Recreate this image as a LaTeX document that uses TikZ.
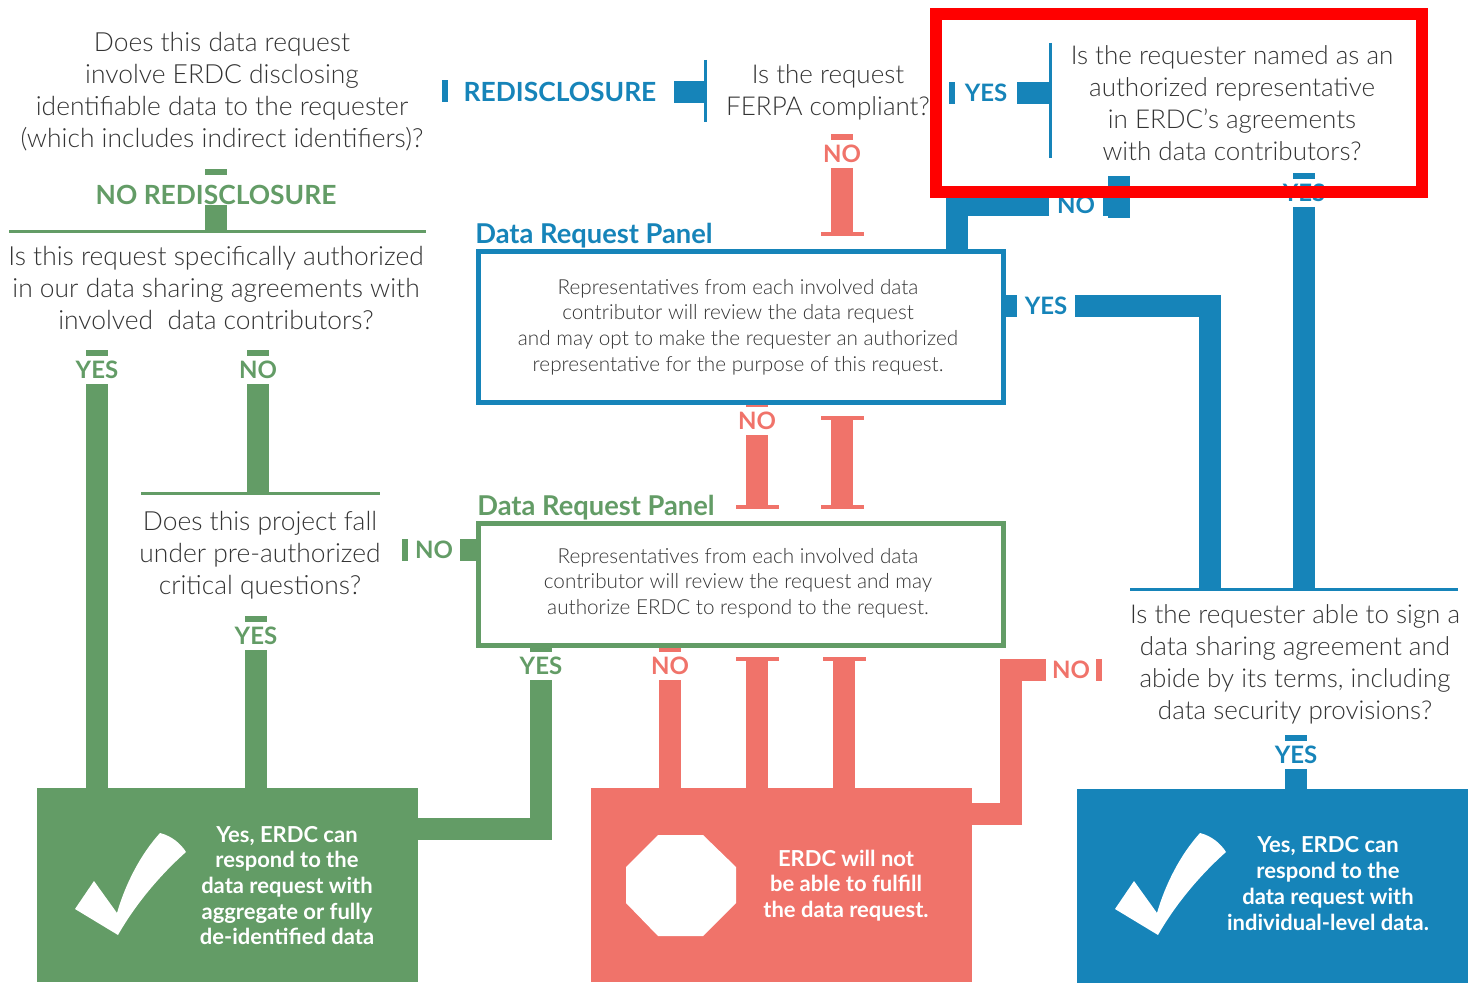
\documentclass[tikz,border=0pt]{standalone}
\usepackage{fontspec}
\setmainfont{Lato}[UprightFont=* Light,BoldFont=* Bold]
\usetikzlibrary{positioning}
\definecolor{ablue}{HTML}{1684B9}
\definecolor{agreen}{HTML}{639C66}
\definecolor{asalmon}{HTML}{F0736A}
\begin{document}
\begin{tikzpicture}[
        x=0.5pt, y=-0.5pt,
        every node/.style={inner sep=0pt, outer sep=0pt},
        question/.style={align=center, text=black!80, font=\fontsize{#1}{16}\selectfont},
        question/.default=13.2,
        detail/.style={align=center, text=black!80, font=\fontsize{10.35}{12.8}\selectfont},
        heading/.style={font=\bfseries\fontsize{13.2}{16}\selectfont},
        title/.style={font=\bfseries\fontsize{13.65}{16}\selectfont},
        answer/.style={font=\bfseries\fontsize{12}{12}\selectfont, text=#1, minimum height=14pt},
        result/.style={align=center, text=white, font=\bfseries\fontsize{11}{12.85}\selectfont},
        vtick/.style={fill=#1, minimum width=11pt, minimum height=3pt},
        htick/.style={fill=#1, minimum width=3pt, minimum height=11pt},
        stop/.style={fill=asalmon, minimum width=21.5pt, minimum height=2pt},
        panel/.style={draw=#1, line width=2.5pt, minimum width=262.5pt},
        outcome/.style={fill=#1, minimum width=190.5pt, minimum height=97pt},
        rule/.style={draw=#1, line width=1.5pt},
        bar/.style={draw=#1, line width=11pt}
    ]
    \useasboundingbox (0,0) rectangle (1476,984);

    % question texts
    \node[question] (qDisclose) at (222,92) {Does this data request\\involve ERDC disclosing\\identifiable data to the requester\\(which includes indirect identifiers)?};
    \node[question] (qAuthorized) at (216,288) {Is this request specifically authorized\\in our data sharing agreements with\\involved~~data contributors?};
    \node[question] (qCritical) at (260,555) {Does this project fall\\under pre-authorized\\critical questions?};
    \node[question=13] (qFerpa) at (828,92.5) {Is the request\\FERPA compliant?};
    \node[question=13] (qNamed) at (1232,103.5) {Is the requester named as an\\authorized representative\\in ERDC's agreements\\with data contributors?};
    \node[question=13] (qSign) at (1295,664) {Is the requester able to sign a\\data sharing agreement and\\abide by its terms, including\\data security provisions?};

    % headings
    \node[heading, text=agreen] (noRedis) at (216,195) {NO REDISCLOSURE};
    \node[heading, text=ablue] (redis) at (560,92) {REDISCLOSURE};
    \node[title, text=ablue] (titleBlue) at (594,236) {Data Request Panel};
    \node[title, text=agreen] (titleGreen) at (596,508) {Data Request Panel};
    \node[vtick=agreen, above=5pt of noRedis.north] (tickNoRedis) {};
    \node[htick=ablue] (tickRedis) at (445,91.5) {};

    % answers, with their ticks
    \node[answer=agreen] (yesAuth) at (97,370) {YES};
    \node[vtick=agreen, above=0pt of yesAuth] (tickYesAuth) {};
    \node[answer=agreen] (noAuth) at (258,370) {NO};
    \node[vtick=agreen, above=0pt of noAuth] (tickNoAuth) {};
    \node[answer=agreen] (yesCrit) at (256,636) {YES};
    \node[vtick=agreen, above=0pt of yesCrit] (tickYesCrit) {};
    \node[answer=agreen, minimum width=26pt] (noCrit) at (434,550) {NO};
    \node[htick=agreen, left=0pt of noCrit] (tickNoCrit) {};
    \node[answer=agreen] (yesPanel) at (541,666) {YES};
    \node[vtick=agreen, above=0pt of yesPanel] (tickYesPanel) {};
    \node[answer=asalmon] (noPanel) at (670,666) {NO};
    \node[vtick=asalmon, above=0pt of noPanel] (tickNoPanel) {};
    \node[answer=asalmon] (noFerpa) at (842,154) {NO};
    \node[vtick=asalmon, above=0pt of noFerpa] (tickNoFerpa) {};
    \node[answer=asalmon] (noBlue) at (757,421) {NO};
    \node[vtick=asalmon, above=0pt of noBlue] (tickNoBlue) {};
    \node[answer=asalmon, minimum width=25pt] (noSign) at (1071,670) {NO};
    \node[htick=asalmon, right=0pt of noSign] (tickNoSign) {};
    \node[answer=ablue, minimum width=31pt] (yesNamed) at (986,93) {YES};
    \node[htick=ablue, left=0pt of yesNamed] (tickYesNamed) {};
    \node[answer=ablue, minimum width=27pt] (noNamed) at (1076,205) {NO};
    \node[answer=ablue, minimum width=29pt] (yesBlue) at (1046,306) {YES};
    \node[answer=ablue] (yesSign) at (1304,193) {YES};
    \node[vtick=ablue, above=0pt of yesSign] (tickYesSign) {};
    \node[answer=ablue] (yesData) at (1296,755) {YES};
    \node[vtick=ablue, above=0pt of yesData] (tickYesData) {};

    % red stop ends
    \node[stop] (stopFerpa) at (842,234) {};
    \node[stop] (stopBlue) at (757,507) {};
    \node[stop] (stopTop) at (842,418) {};
    \node[stop] (stopBottom) at (842,507) {};
    \node[stop] (stopLeft) at (757,659) {};
    \node[stop] (stopRight) at (844,659) {};

    % panels and outcomes
    \node[panel=ablue, minimum height=75.5pt] (panelBlue) at (741,327) {};
    \node[detail] (textBlue) at (738,327) {Representatives from each involved data\\contributor will review the data request\\and may opt to make the requester an authorized\\representative for the purpose of this request.};
    \node[panel=agreen, minimum height=61pt] (panelGreen) at (741,584.5) {};
    \node[detail] (textGreen) at (738,583) {Representatives from each involved data\\contributor will review the request and may\\authorize ERDC to respond to the request.};
    \node[outcome=agreen] (boxGreen) at (227.5,885) {};
    \node[outcome=asalmon] (boxRed) at (781.5,884.5) {};
    \node[outcome=ablue, minimum width=195.5pt] (boxBlue) at (1272.5,885.5) {};
    \node[result] (textGreenBox) at (287,885.5) {Yes, ERDC can\\respond to the\\data request with\\aggregate or fully\\de-identified data};
    \node[result] (textRedBox) at (846,885.5) {ERDC will not\\be able to fulfill\\the data request.};
    \node[result] (textBlueBox) at (1328,883.5) {Yes, ERDC can\\respond to the\\data request with\\individual-level data.};

    % rules beside the questions
    \coordinate (ruleA) at (9,232);
    \coordinate (ruleB) at (426,232);
    \coordinate (ruleC) at (141,493);
    \coordinate (ruleD) at (380,493);
    \coordinate (ruleE) at (705,60);
    \coordinate (ruleF) at (705,122);
    \coordinate (ruleG) at (1050,43);
    \coordinate (ruleH) at (1050,158);
    \coordinate (ruleI) at (1130,589);
    \coordinate (ruleJ) at (1458,589);
    \draw[rule=agreen] (ruleA) -- (ruleB);
    \draw[rule=agreen] (ruleC) -- (ruleD);
    \draw[rule=ablue] (ruleE) -- (ruleF);
    \draw[rule=ablue] (ruleG) -- (ruleH);
    \draw[rule=ablue] (ruleI) -- (ruleJ);

    % green connectors
    \draw[bar=agreen] (noRedis.south -| tickNoRedis) -- (tickNoRedis |- ruleA);
    \draw[bar=agreen] (yesAuth) ++(0,14) -- (yesAuth |- boxGreen.north);
    \draw[bar=agreen] (noAuth) ++(0,14) -- (noAuth |- ruleC);
    \draw[bar=agreen] (yesCrit) ++(0,14) -- (yesCrit |- boxGreen.north);
    \draw[bar=agreen] (noCrit.east) -- (panelGreen.west |- noCrit);
    \draw[bar=agreen] (yesPanel.south) |- (boxGreen.east |- 0,829);

    % salmon connectors
    \draw[bar=asalmon] (noFerpa.south) -- (stopFerpa);
    \draw[bar=asalmon] (noBlue.south) -- (stopBlue);
    \draw[bar=asalmon] (stopTop) -- (stopBottom);
    \draw[bar=asalmon] (noPanel.south) -- (noPanel |- boxRed.north);
    \draw[bar=asalmon] (stopLeft) -- (stopLeft |- boxRed.north);
    \draw[bar=asalmon] (stopRight) -- (stopRight |- boxRed.north);
    \draw[bar=asalmon] (noSign.west) -- (1011,670) -- (1011,814) -- (boxRed.east |- 0,814);

    % blue connectors
    \draw[bar=ablue] (redis.east -| 674,0) -- (ruleE |- redis);
    \draw[bar=ablue] (yesNamed.east) -- (ruleG |- yesNamed);
    \draw[bar=ablue] (noNamed.west) -| (957,249);
    \draw[bar=ablue] (noNamed.east) -- (1119,205);
    \draw[bar=ablue] (1119,176) -- (1119,218);
    \draw[bar=ablue] (panelBlue.east |- yesBlue) -- (yesBlue.west);
    \draw[bar=ablue] (yesBlue.east) -| (1210,589);
    \draw[bar=ablue] (yesSign.south) -- (yesSign |- ruleI);
    \draw[bar=ablue] (yesData.south) -- (yesData |- boxBlue.north);

    % check marks and stop sign
    \foreach \dx in {0,1040}
        \fill[white, shift={(\dx,0)}] (160,833) .. controls (172,836) and (181,844) .. (186,852)
            .. controls (160,875) and (135,905) .. (118,935) -- (75,909) -- (94,881) -- (117,913)
            .. controls (125,885) and (140,855) .. (160,833) -- cycle;
    \fill[white] (658,835) -- (703,835) -- (736,867) -- (736,903) -- (703,936) -- (658,936) -- (626,903) -- (626,867) -- cycle;

    % red highlight
    \node[draw=red, line width=6pt, minimum width=243pt, minimum height=89pt] (highlight) at (1179,103) {};
\end{tikzpicture}
\end{document}
